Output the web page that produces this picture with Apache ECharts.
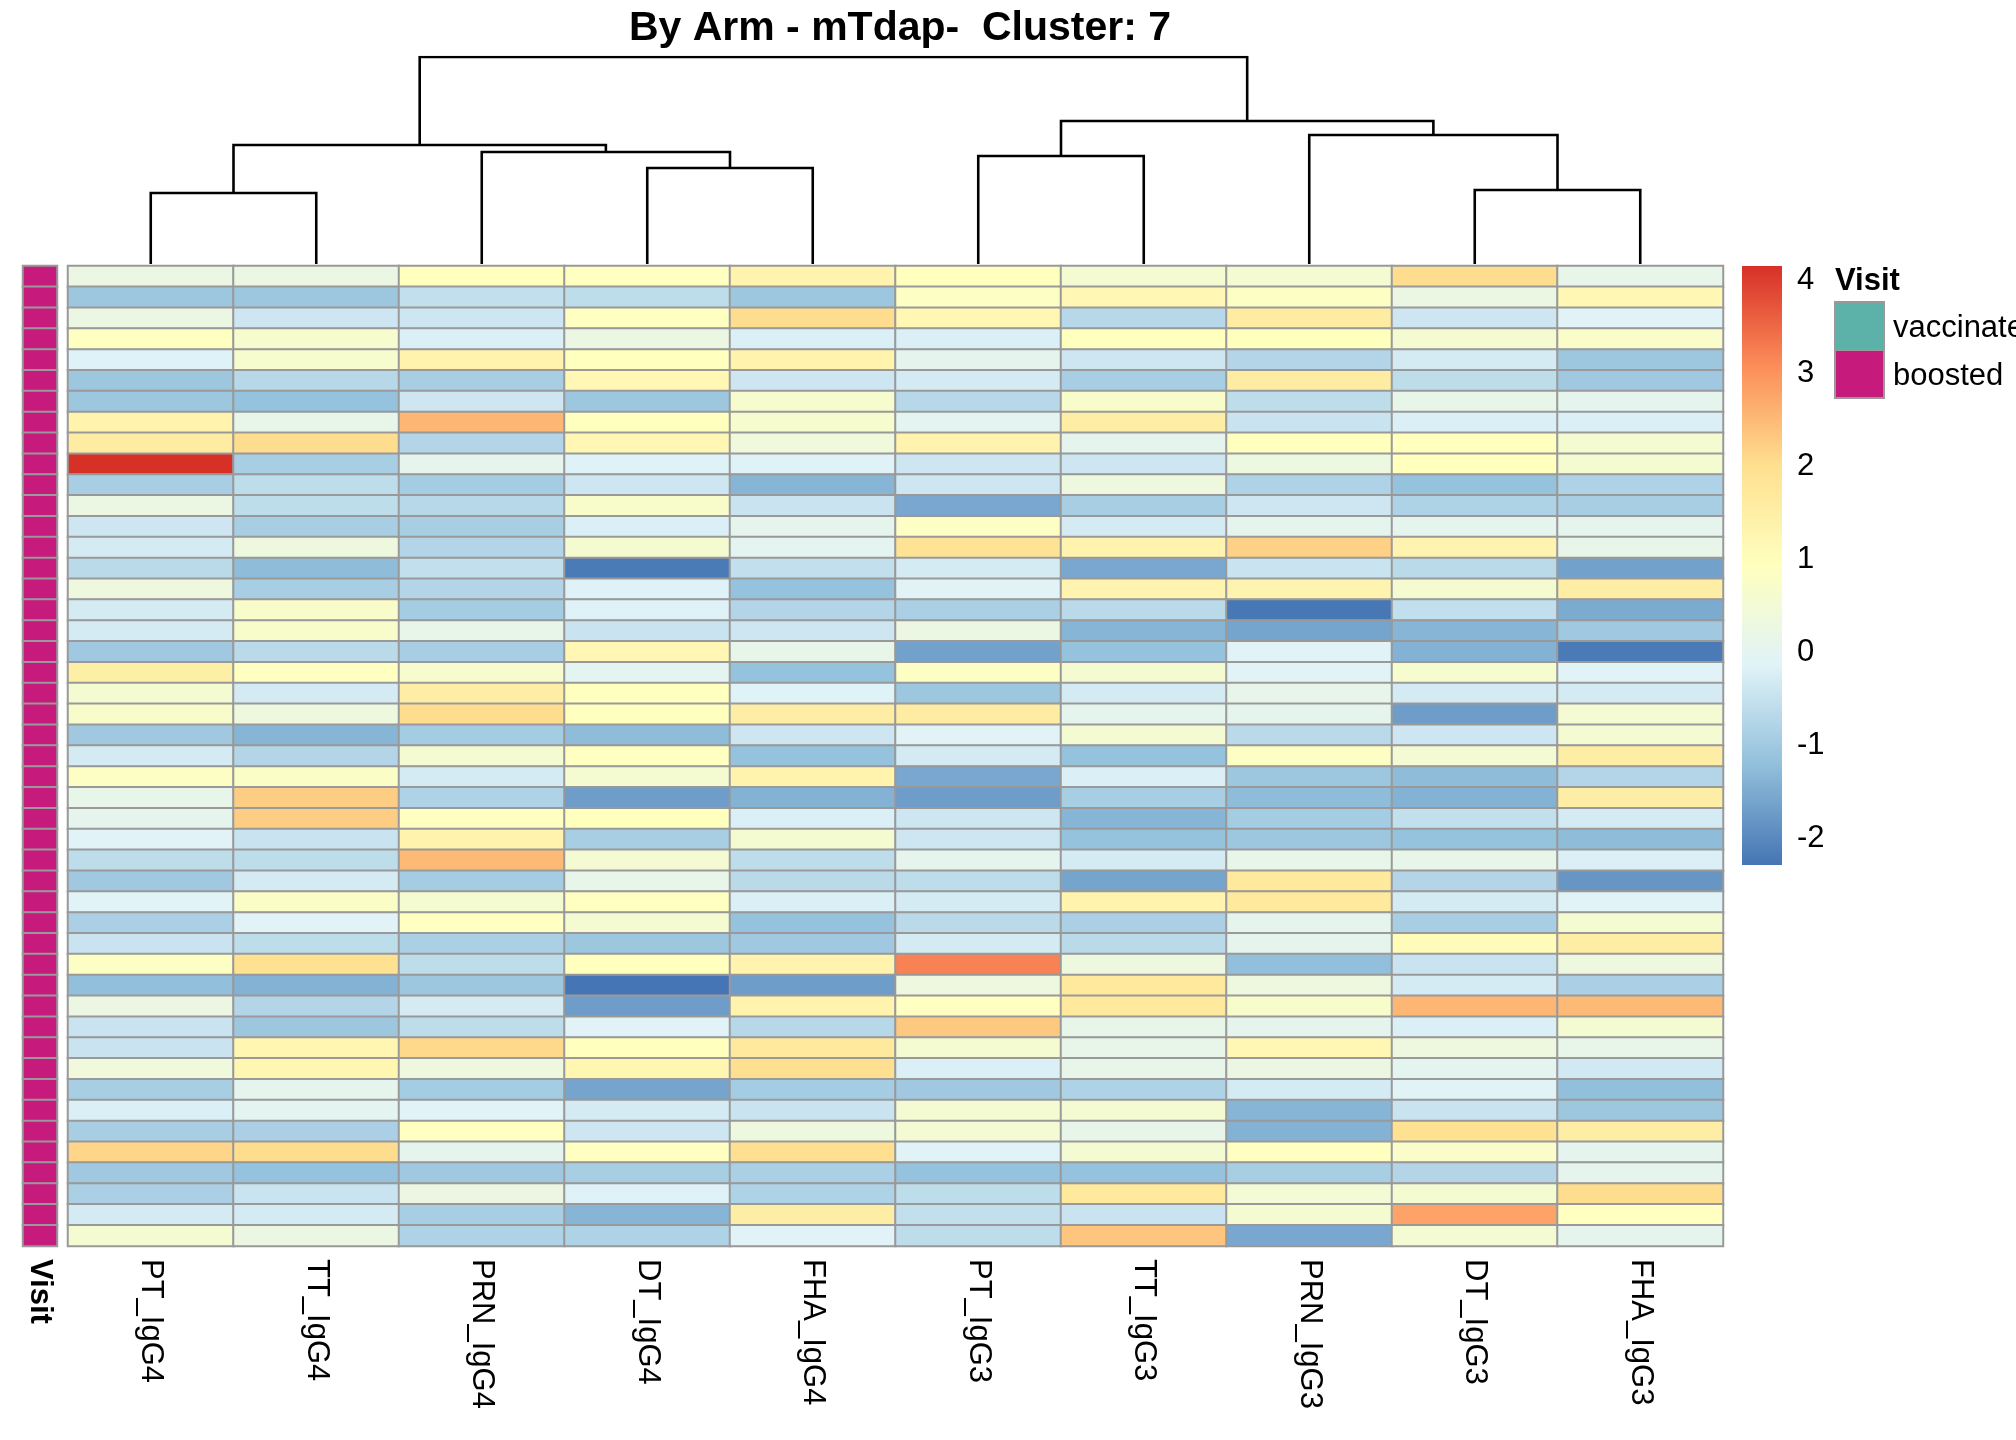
<!DOCTYPE html>
<html>
<head>
<meta charset="utf-8">
<title>By Arm - mTdap- Cluster: 7</title>
<script src="https://cdn.jsdelivr.net/npm/echarts@6/dist/echarts.min.js"></script>
<style>
    html, body { margin: 0; padding: 0; background: #ffffff; }
    #chart { width: 2016px; height: 1440px; }
</style>
</head>
<body>
<div id="chart"></div>
<script>
// columns, in dendrogram order
const features = ['PT_IgG4', 'TT_IgG4', 'PRN_IgG4', 'DT_IgG4', 'FHA_IgG4',
                  'PT_IgG3', 'TT_IgG3', 'PRN_IgG3', 'DT_IgG3', 'FHA_IgG3'];

// scaled values, one per sample row (top to bottom)
const PT_IgG4 = [0.25, -1.05, 0.25, 0.9, -0.15, -1.05, -1.05, 1.35, 1.6, 4.15,
    -0.9, 0.25, -0.4, -0.3, -0.65, 0.35, -0.3, -0.3, -1.0, 1.5,
    0.6, 0.7, -1.0, -0.3, 0.85, 0.15, 0.05, -0.1, -0.6, -1.0,
    -0.1, -0.85, -0.45, 0.85, -1.2, 0.25, -0.45, -0.45, 0.4, -0.9,
    -0.2, -0.9, 2.15, -1.0, -0.85, -0.3, 0.6];
const TT_IgG4 = [0.25, -1.05, -0.4, 0.65, 0.65, -0.7, -1.15, 0.15, 2.05, -0.9,
    -0.6, -0.6, -0.9, 0.35, -1.25, -0.9, 0.7, 0.7, -0.65, 0.9,
    -0.3, 0.35, -1.35, -0.75, 0.8, 2.25, 2.25, -0.45, -0.6, -0.3,
    0.8, -0.1, -0.6, 1.95, -1.4, -0.75, -1.05, 1.25, 1.25, 0.05,
    0.0, -0.85, 2.05, -1.15, -0.45, -0.3, 0.25];
const PRN_IgG4 = [0.95, -0.55, -0.4, -0.2, 1.35, -0.9, -0.4, 2.55, -0.75, 0.05,
    -0.95, -0.7, -0.9, -0.75, -0.55, -0.75, -0.95, 0.15, -0.9, 0.65,
    1.55, 2.05, -0.95, 0.6, -0.3, -0.8, 0.9, 1.35, 2.5, -0.95,
    0.6, 0.9, -0.85, -0.6, -1.05, -0.3, -0.6, 2.1, 0.35, -0.95,
    -0.1, 0.9, 0.05, -1.0, 0.25, -0.9, -0.8];
const DT_IgG4 = [0.9, -0.6, 0.9, 0.25, 0.95, 1.2, -1.05, 0.95, 1.2, -0.15,
    -0.4, 0.7, -0.2, 0.6, -2.2, -0.15, -0.15, -0.45, 1.2, 0.0,
    0.95, 0.95, -1.25, 0.9, 0.6, -1.7, 0.95, -0.9, 0.55, 0.15,
    0.9, 0.6, -1.05, 0.95, -2.28, -1.7, -0.1, 0.95, 1.25, -1.6,
    -0.3, -0.4, 0.9, -0.9, -0.15, -1.35, -0.8];
const FHA_IgG4 = [1.35, -1.05, 2.05, -0.2, 1.35, -0.4, 0.65, 0.65, 0.4, -0.15,
    -1.35, -0.45, 0.05, 0.0, -0.55, -1.15, -0.75, -0.4, 0.15, -1.15,
    -0.15, 1.55, -0.4, -1.15, 1.35, -1.4, -0.2, 0.6, -0.6, -0.65,
    -0.2, -1.15, -1.0, 1.35, -1.7, 1.35, -0.7, 1.7, 2.0, -0.95,
    -0.45, 0.35, 2.0, -0.85, -0.8, 1.55, -0.1];
const PT_IgG3 = [0.95, 0.85, 1.2, -0.2, 0.05, -0.3, -0.7, 0.0, 1.35, -0.4,
    -0.4, -1.55, 0.85, 1.9, -0.3, -0.1, -0.85, 0.25, -1.65, 0.85,
    -1.05, 1.6, -0.1, -0.3, -1.55, -1.7, -0.4, -0.4, 0.05, -0.6,
    -0.3, -0.65, -0.3, 3.2, 0.35, 0.9, 2.3, 0.6, -0.2, -1.0,
    0.55, 0.55, -0.1, -1.15, -0.6, -0.55, -0.6];
const TT_IgG3 = [0.6, 1.2, -0.7, 0.95, -0.4, -0.9, 0.7, 1.55, 0.05, -0.4,
    0.35, -0.9, -0.3, 1.35, -1.55, 1.3, -0.65, -1.35, -1.15, 0.6,
    -0.3, 0.05, 0.55, -1.15, -0.2, -0.9, -1.35, -1.15, -0.3, -1.6,
    1.35, -0.85, -0.65, 0.35, 1.7, 1.7, 0.15, 0.15, 0.15, -0.8,
    0.55, 0.15, 0.55, -1.15, 1.7, -0.45, 2.35];
const PRN_IgG3 = [0.6, 0.85, 1.6, 0.95, -0.75, 1.6, -0.6, -0.45, 0.95, 0.3,
    -0.8, -0.4, 0.05, 2.2, -0.45, 1.3, -2.25, -1.6, -0.1, -0.1,
    0.15, 0.05, -0.65, 0.85, -1.05, -1.25, -0.95, -1.05, 0.15, 1.7,
    1.7, 0.05, 0.05, -1.2, 0.35, 0.7, 0.05, 1.2, 0.25, -0.3,
    -1.35, -1.4, 0.9, -0.9, 0.5, 0.6, -1.55];
const DT_IgG3 = [2.05, 0.25, -0.4, 0.6, -0.3, -0.6, 0.15, -0.2, 0.95, 0.95,
    -1.15, -0.8, 0.05, 1.3, -0.65, 0.6, -0.55, -1.35, -1.4, 0.65,
    -0.3, -1.7, -0.4, 0.55, -1.25, -1.4, -0.55, -1.15, 0.15, -0.75,
    -0.3, -0.9, 1.05, -0.45, -0.3, 2.55, -0.2, 0.35, 0.0, -0.1,
    -0.45, 1.95, 0.75, -0.75, 0.6, 2.8, 0.55];
const FHA_IgG3 = [0.15, 1.2, -0.1, 0.75, -1.05, -1.0, 0.05, -0.2, 0.6, 0.6,
    -0.8, -0.9, 0.05, 0.15, -1.65, 1.55, -1.5, -1.0, -2.2, -0.1,
    -0.3, 0.55, 0.55, 1.55, -0.75, 1.55, -0.3, -1.25, -0.2, -1.8,
    -0.1, 0.6, 1.55, 0.35, -0.85, 2.5, 0.6, 0.15, -0.35, -1.2,
    -1.05, 1.55, 0.05, 0.05, 2.05, 0.9, 0.05];

const columnValues = [PT_IgG4, TT_IgG4, PRN_IgG4, DT_IgG4, FHA_IgG4,
                      PT_IgG3, TT_IgG3, PRN_IgG3, DT_IgG3, FHA_IgG3];

// row annotation: index into visitLevels
const visitLevels = ['vaccinated', 'boosted'];
const visitColors = ['#5CB2A9', '#C61A7C'];
const visitOfRow = [1, 1, 1, 1, 1, 1, 1, 1, 1, 1,
    1, 1, 1, 1, 1, 1, 1, 1, 1, 1,
    1, 1, 1, 1, 1, 1, 1, 1, 1, 1,
    1, 1, 1, 1, 1, 1, 1, 1, 1, 1,
    1, 1, 1, 1, 1, 1, 1];

// colour key
const scaleMin = -2.28;
const scaleMax = 4.15;
const colorTicks = [-2, -1, 0, 1, 2, 3, 4];
const palette = ['#4575B4', '#91BFDB', '#E0F3F8', '#FFFFBF', '#FEE090', '#FC8D59', '#D73027'];

// column dendrogram: [a, b, height]; ids < 10 are leaves, 10+ are earlier merges
const dendroMerges = [
    [0, 1, 7.1],
    [3, 4, 9.6],
    [2, 11, 11.2],
    [10, 12, 11.9],
    [5, 6, 10.8],
    [8, 9, 7.4],
    [7, 15, 12.9],
    [14, 16, 14.3],
    [13, 17, 20.7]
];
const dendroTop = 20.7;

const FONT = "'Liberation Sans', Arial, sans-serif";

// build series data
const rowIds = visitOfRow.map((_, i) => 'r' + (i + 1));
const heatData = [];
columnValues.forEach((col, c) => {
    col.forEach((v, r) => heatData.push([c, r, v]));
});
const annotData = visitOfRow.map((v, r) => [0, r, v]);

const nodeX = features.map((_, i) => i + 0.5);
const nodeH = features.map(() => 0);
const dendroLines = dendroMerges.map(([a, b, h]) => {
    const seg = {
        coords: [[nodeX[a], nodeH[a]], [nodeX[a], h], [nodeX[b], h], [nodeX[b], nodeH[b]]]
    };
    nodeX.push((nodeX[a] + nodeX[b]) / 2);
    nodeH.push(h);
    return seg;
});

// legend for the Visit annotation
const legendX = 1835, legendY = 302, boxW = 49, boxH = 48;
const legendGraphics = [{
    type: 'text', left: legendX, top: 266,
    style: { text: 'Visit', font: 'bold 31px ' + FONT, fill: '#000' }
}];
visitLevels.forEach((name, i) => {
    legendGraphics.push({
        type: 'rect',
        shape: { x: legendX, y: legendY + i * boxH, width: boxW, height: boxH },
        style: { fill: visitColors[i], stroke: '#999999', lineWidth: 2 }
    });
    legendGraphics.push({
        type: 'text', x: legendX + boxW + 9, y: legendY + i * boxH + boxH / 2 + 2,
        style: { text: name, font: '31px ' + FONT, fill: '#000', textVerticalAlign: 'middle' }
    });
});

const chart = echarts.init(document.getElementById('chart'));

const labelStyle = {
    rotate: -90, interval: 0, fontSize: 31, color: '#000', fontFamily: FONT, margin: 13
};

chart.setOption({
    backgroundColor: '#ffffff',
    animation: false,
    title: {
        text: 'By Arm - mTdap-  Cluster: 7',
        left: 895, top: 3, textAlign: 'center',
        textStyle: { fontSize: 41, fontWeight: 'bold', color: '#000', fontFamily: FONT }
    },
    grid: [
        { left: 68, top: 266, width: 1655, height: 980 },   // heatmap
        { left: 23, top: 266, width: 34, height: 980 },     // Visit annotation
        { left: 1742, top: 266, width: 40, height: 599 },   // colour key
        { left: 68, top: 57, width: 1655, height: 207 }     // dendrogram
    ],
    xAxis: [
        { gridIndex: 0, type: 'category', data: features, position: 'bottom',
          axisLine: { show: false }, axisTick: { show: false }, axisLabel: labelStyle },
        { gridIndex: 1, type: 'category', data: ['Visit'], position: 'bottom',
          axisLine: { show: false }, axisTick: { show: false },
          axisLabel: Object.assign({}, labelStyle, { fontWeight: 'bold' }) },
        { gridIndex: 2, type: 'category', data: [''], show: false },
        { gridIndex: 3, type: 'value', min: 0, max: features.length, show: false }
    ],
    yAxis: [
        { gridIndex: 0, type: 'category', data: rowIds, inverse: true, show: false },
        { gridIndex: 1, type: 'category', data: rowIds, inverse: true, show: false },
        { gridIndex: 2, type: 'value', min: scaleMin, max: scaleMax, position: 'right',
          axisLine: { show: false }, axisTick: { show: false }, splitLine: { show: false },
          axisLabel: { customValues: colorTicks, fontSize: 31, color: '#000',
                       fontFamily: FONT, margin: 15 } },
        { gridIndex: 3, type: 'value', min: 0, max: dendroTop, show: false }
    ],
    visualMap: [
        { type: 'continuous', show: false, seriesIndex: 0, dimension: 2,
          min: scaleMin, max: scaleMax, inRange: { color: palette } },
        { type: 'piecewise', show: false, seriesIndex: 1, dimension: 2,
          pieces: visitLevels.map((name, i) => ({ value: i, color: visitColors[i] })) }
    ],
    series: [
        {
            type: 'heatmap', xAxisIndex: 0, yAxisIndex: 0, data: heatData,
            itemStyle: { borderColor: '#999999', borderWidth: 2 },
            emphasis: { disabled: true }, progressive: 0
        },
        {
            type: 'heatmap', xAxisIndex: 1, yAxisIndex: 1, data: annotData,
            itemStyle: { borderColor: '#999999', borderWidth: 2 },
            emphasis: { disabled: true }
        },
        {
            type: 'custom', xAxisIndex: 2, yAxisIndex: 2, silent: true,
            data: [[0, scaleMin, scaleMax]],
            renderItem: function (params, api) {
                const top = api.coord([api.value(0), api.value(2)]);
                const bottom = api.coord([api.value(0), api.value(1)]);
                const w = api.size([1, 0])[0];
                // top of the key is the max colour
                const stops = palette.map((c, i) => ({ offset: 1 - i / (palette.length - 1), color: c })).reverse();
                return {
                    type: 'rect',
                    shape: { x: top[0] - w / 2, y: top[1], width: w, height: bottom[1] - top[1] },
                    style: { fill: new echarts.graphic.LinearGradient(0, 0, 0, 1, stops) }
                };
            }
        },
        {
            type: 'lines', coordinateSystem: 'cartesian2d', xAxisIndex: 3, yAxisIndex: 3,
            polyline: true, silent: true, data: dendroLines,
            lineStyle: { color: '#000', width: 2.6, opacity: 1 }
        }
    ],
    graphic: legendGraphics
});
</script>
</body>
</html>
